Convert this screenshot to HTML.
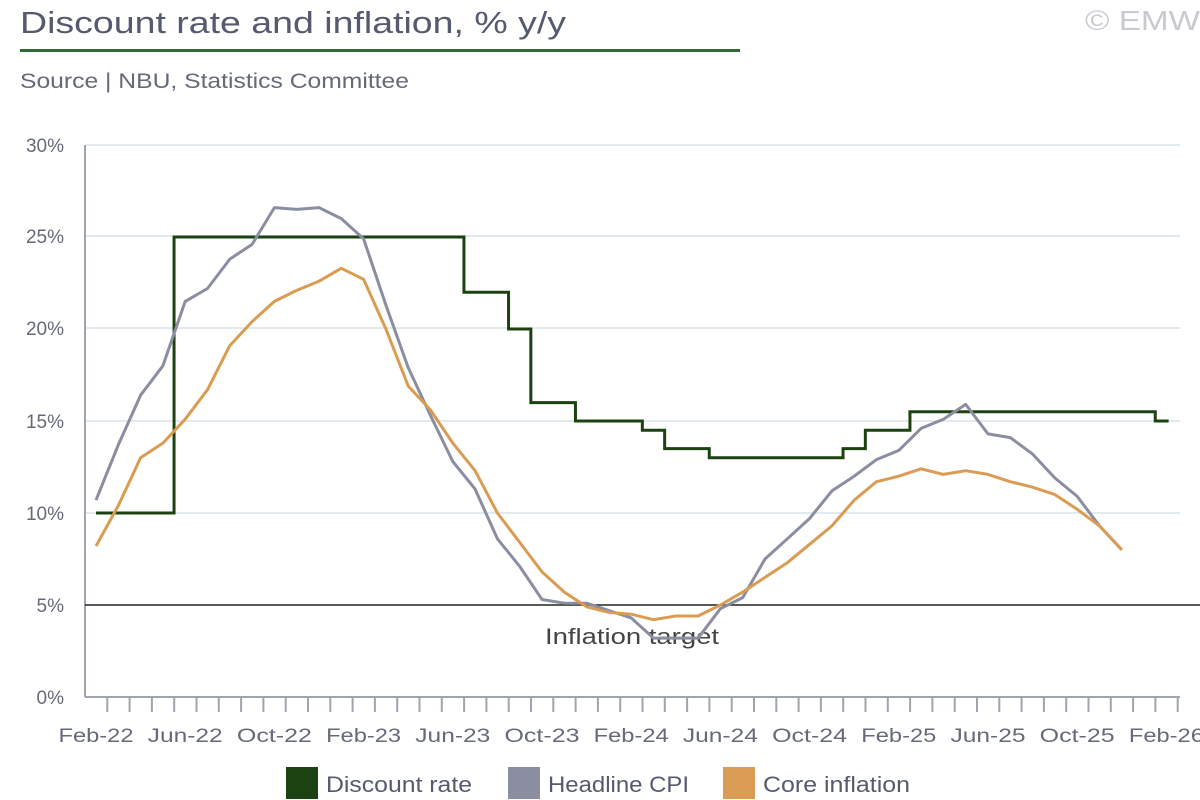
<!DOCTYPE html>
<html><head><meta charset="utf-8"><style>
body{margin:0;background:#fff;}
svg{display:block;font-family:"Liberation Sans",sans-serif;}
</style></head><body>
<svg width="1200" height="800" viewBox="0 0 1200 800" xmlns="http://www.w3.org/2000/svg">
<text x="20" y="33" font-size="31" fill="#555a6e" textLength="546" lengthAdjust="spacingAndGlyphs">Discount rate and inflation, % y/y</text>
<text x="1085" y="30" font-size="28" fill="#c8cad0" textLength="115" lengthAdjust="spacingAndGlyphs">© EMW</text>
<rect x="20" y="49" width="720" height="3" fill="#2e6b30"/>
<text x="20" y="88" font-size="21" fill="#666a78" textLength="389" lengthAdjust="spacingAndGlyphs">Source | NBU, Statistics Committee</text>
<g stroke="#d8e3ec" stroke-width="1.5">
<line x1="85" y1="145" x2="1180" y2="145"/><line x1="85" y1="236" x2="1180" y2="236"/>
<line x1="85" y1="328" x2="1180" y2="328"/><line x1="85" y1="421" x2="1180" y2="421"/>
<line x1="85" y1="513" x2="1180" y2="513"/>
</g>
<g font-size="19" fill="#666a78" text-anchor="end">
<text x="64" y="152">30%</text><text x="64" y="243">25%</text><text x="64" y="335">20%</text>
<text x="64" y="428">15%</text><text x="64" y="520">10%</text><text x="64" y="612">5%</text><text x="64" y="704">0%</text>
</g>
<g stroke="#a0a4ae" stroke-width="2" id="ax">
<line x1="85" y1="145" x2="85" y2="697"/><line x1="85" y1="697" x2="1180" y2="697"/>
</g>
<g id="ticks" stroke="#a0a4ae" stroke-width="2"></g>
<g font-size="19" fill="#666a78" text-anchor="middle" id="xl"></g>
<line x1="85" y1="605" x2="1200" y2="605" stroke="#222" stroke-width="1.5"/>
<text x="545" y="644" font-size="22" fill="#444" textLength="174" lengthAdjust="spacingAndGlyphs">Inflation target</text>
<polyline id="dr" fill="none" stroke="#1c4212" stroke-width="3"/>
<polyline id="cpi" fill="none" stroke="#8a8ea0" stroke-width="3" stroke-linejoin="round"/>
<polyline id="core" fill="none" stroke="#d99c52" stroke-width="3" stroke-linejoin="round"/>
<rect x="286" y="767" width="32" height="32" fill="#1c4212"/>
<text x="326" y="792" font-size="22" fill="#555a6e" textLength="146" lengthAdjust="spacingAndGlyphs">Discount rate</text>
<rect x="508" y="767" width="32" height="32" fill="#8a8ea0"/>
<text x="548" y="792" font-size="22" fill="#555a6e" textLength="141" lengthAdjust="spacingAndGlyphs">Headline CPI</text>
<rect x="723" y="767" width="32" height="32" fill="#d99c52"/>
<text x="763" y="792" font-size="22" fill="#555a6e" textLength="147" lengthAdjust="spacingAndGlyphs">Core inflation</text>
</svg>
<script>
var X=i=>96+22.3*i, Y=v=>697-v*18.4;
var cpi=[10.7,13.7,16.4,18.0,21.5,22.2,23.8,24.6,26.6,26.5,26.6,26.0,24.9,21.3,17.9,15.3,12.8,11.3,8.6,7.1,5.3,5.1,5.1,4.7,4.3,3.2,3.2,3.2,4.8,5.4,7.5,8.6,9.7,11.2,12.0,12.9,13.4,14.6,15.1,15.9,14.3,14.1,13.2,11.9,10.9,9.3,8.0];
var core=[8.2,10.4,13.0,13.8,15.1,16.7,19.1,20.4,21.5,22.1,22.6,23.3,22.7,20.0,16.9,15.6,13.8,12.3,10.0,8.4,6.8,5.7,4.9,4.6,4.5,4.2,4.4,4.4,5.0,5.7,6.5,7.3,8.3,9.3,10.7,11.7,12.0,12.4,12.1,12.3,12.1,11.7,11.4,11.0,10.2,9.3,8.0];
function pts(a){return a.map((v,i)=>X(i).toFixed(1)+","+Y(v).toFixed(1)).join(" ");}
document.getElementById("cpi").setAttribute("points",pts(cpi));
document.getElementById("core").setAttribute("points",pts(core));
var steps=[[0,10],[3.5,25],[16.5,22],[18.5,20],[19.5,16],[21.5,15],[24.5,14.5],[25.5,13.5],[27.5,13],[33.5,13.5],[34.5,14.5],[36.5,15.5],[47.5,15],[48.1,15]];
var p=[];for(var k=0;k<steps.length;k++){var s=steps[k];if(k>0)p.push(X(s[0])+","+Y(steps[k-1][1]));p.push(X(s[0])+","+Y(s[1]));}
document.getElementById("dr").setAttribute("points",p.join(" "));
var ns="http://www.w3.org/2000/svg",tg=document.getElementById("ticks");
for(var i=1;i<=49;i++){var l=document.createElementNS(ns,"line");var x=85+22.3*i;l.setAttribute("x1",x);l.setAttribute("x2",x);l.setAttribute("y1",697);l.setAttribute("y2",712);tg.appendChild(l);}
var labs=["Feb-22","Jun-22","Oct-22","Feb-23","Jun-23","Oct-23","Feb-24","Jun-24","Oct-24","Feb-25","Jun-25","Oct-25","Feb-26"];
var xl=document.getElementById("xl");
labs.forEach((s,j)=>{var e=document.createElementNS(ns,"text");e.setAttribute("x",X(j*4));e.setAttribute("y",742);e.setAttribute("textLength",75);e.setAttribute("lengthAdjust","spacingAndGlyphs");e.textContent=s;xl.appendChild(e);});
</script>
</body></html>
